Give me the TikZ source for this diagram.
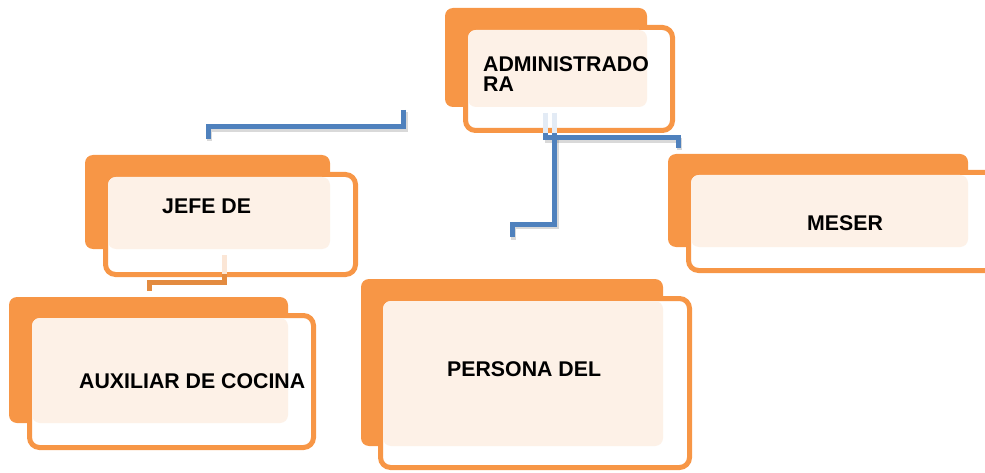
\documentclass[tikz,border=0pt]{standalone}
\usepackage{fontspec}
\setmainfont{Liberation Sans}
\usetikzlibrary{fit}
\definecolor{org}{HTML}{F79646}
\definecolor{cream}{HTML}{FDF1E7}
\definecolor{blu}{HTML}{4F81BD}
\definecolor{faintblu}{HTML}{E3EBF5}
\definecolor{dorg}{HTML}{E38B40}
\definecolor{faintorg}{HTML}{FBE6D6}
\tikzset{
  back/.style={fill=org, draw=none, rounded corners=8pt, inner sep=0pt},
  front/.style={fill=white, draw=org, line width=5pt, rounded corners=10pt, inner sep=0pt},
  tint/.style={fill=cream, draw=none, rounded corners=8pt, inner sep=0pt},
  lbl/.style={font=\fontsize{21.3}{20}\selectfont\bfseries, inner sep=0pt, anchor=base west, align=left},
  bconn/.style={draw=blu, line width=5pt},
  oconn/.style={draw=dorg, line width=5pt},
  fconnb/.style={draw=faintblu, line width=5pt},
  fconno/.style={draw=faintorg, line width=5pt},
  shad/.style={draw=black, opacity=0.15, line width=5pt, transform canvas={shift={(1.5pt,-2.5pt)}}},
}
\begin{document}
\begin{tikzpicture}[x=1pt,y=-1pt]
\useasboundingbox (0,0) rectangle (985,473);
\clip (0,0) rectangle (985,473);
% connector coordinates
\coordinate (b1s) at (403.5,110);
\coordinate (b1e) at (208,139);
\coordinate (b2s) at (545.5,133);
\coordinate (b2e) at (678,148);
\coordinate (b3s) at (554.5,133);
\coordinate (b3e) at (512,237);
\coordinate (o1s) at (224.5,274);
\coordinate (o1e) at (149.5,291);
% connectors (shadows then lines)
\draw[shad] (b1s) -- (403.5,127) -| (b1e);
\draw[shad] (b2s) -- (545.5,138) -| (b2e);
\draw[shad] (b3s) -- (554.5,224.5) -| (b3e);
\draw[bconn] (b1s) -- (403.5,127) -| (b1e);
\draw[bconn] (b2s) -- (545.5,138) -| (b2e);
\draw[bconn] (b3s) -- (554.5,224.5) -| (b3e);
% ADMINISTRADORA
\node[back, fit={(445,8) (647,107)}] (admB) {};
\node[front, fit={(465.5,27.5) (672.5,130.5)}] (adm) {};
\node[tint, fit={(468,30) (647,107)}] (admC) {};
\node[lbl] (admT) at (483,92) {ADMINISTRADO\\RA};
% JEFE DE
\node[back, fit={(85,155) (330,249)}] (jefB) {};
\node[front, fit={(105.5,174.5) (355.5,274.5)}] (jef) {};
\node[tint, fit={(108,177) (330,249)}] (jefC) {};
\node[lbl] (jefT) at (162,214) {JEFE DE};
% AUXILIAR
\node[back, fit={(9,297) (288,423)}] (auxB) {};
\node[front, fit={(29.5,315.5) (313.5,447.5)}] (aux) {};
\node[tint, fit={(32,318) (288,423)}] (auxC) {};
\node[lbl] (auxT) at (79,388) {AUXILIAR DE COCINA};
% PERSONA DEL
\node[back, fit={(361,279) (663,446)}] (perB) {};
\node[front, fit={(380.5,298.5) (689.5,467.5)}] (per) {};
\node[tint, fit={(383,301) (663,446)}] (perC) {};
\node[lbl] (perT) at (447,376) {PERSONA DEL};
% MESER
\node[back, fit={(668,154) (968,247)}] (mesB) {};
\node[front, fit={(688.5,172.5) (1000,270.5)}] (mes) {};
\node[tint, fit={(691,175) (968,247)}] (mesC) {};
\node[lbl] (mesT) at (807,230) {MESER};
% faint connector parts seen through boxes
\draw[fconnb] (545.5,113) -- (b2s);
\draw[fconnb] (554.5,113) -- (b3s);
\draw[fconno] (224.5,255) -- (o1s);
\draw[oconn] (o1s) -- (224.5,282.5) -| (o1e);
\end{tikzpicture}
\end{document}
